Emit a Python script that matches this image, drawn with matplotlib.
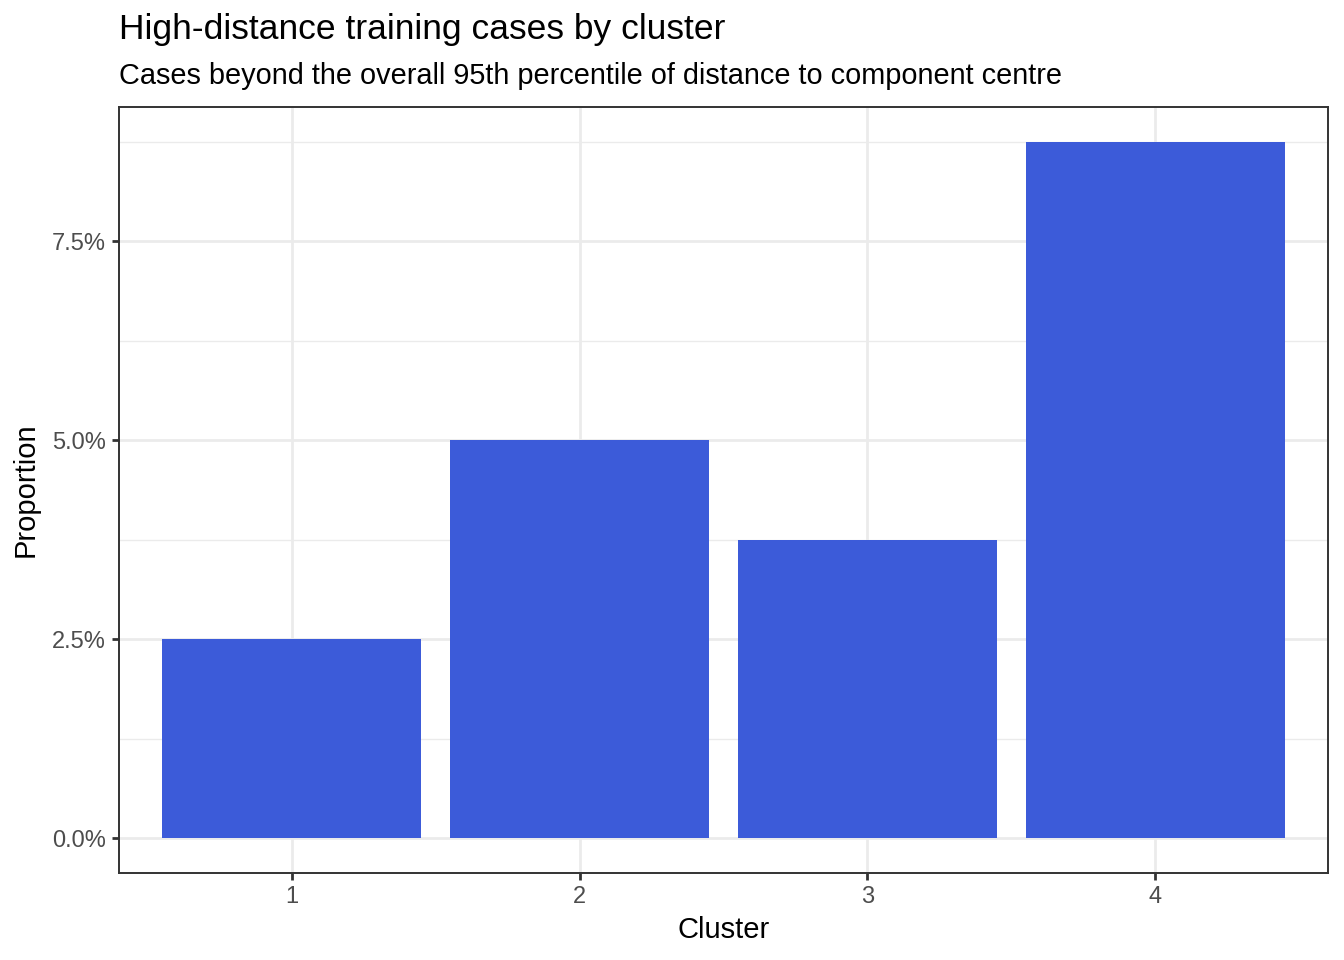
import matplotlib
matplotlib.use("Agg")
import matplotlib.pyplot as plt
from matplotlib.ticker import FuncFormatter, MultipleLocator

clusters = ["1", "2", "3", "4"]
proportions = [0.025, 0.050, 0.0375, 0.0875]
y_ticks = [0.0, 0.025, 0.05, 0.075]

plt.rcParams['font.family'] = ['Liberation Sans', 'DejaVu Sans']

W, H = 1344, 960
fig = plt.figure(figsize=(W / 100, H / 100), dpi=100)
left, right, top, bottom = 119, 1328, 107, 873
ax = fig.add_axes([left / W, 1 - bottom / H, (right - left) / W, (bottom - top) / H])

xpos = list(range(1, len(clusters) + 1))
ax.bar(xpos, proportions, width=0.9, color="#3C5BD9", zorder=3)

ymax = max(proportions)
pad = ymax * 0.05
ax.set_ylim(-pad, ymax + pad)
ax.set_xlim(0.4, len(clusters) + 0.6)

ax.set_xticks(xpos)
ax.set_xticklabels(clusters)
ax.set_yticks(y_ticks)
ax.yaxis.set_major_formatter(FuncFormatter(lambda v, p: f"{v*100:.1f}%"))
ax.yaxis.set_minor_locator(MultipleLocator(0.0125))

ax.grid(which="major", color="#EBEBEB", linewidth=2.0, zorder=0)
ax.grid(which="minor", axis="y", color="#EBEBEB", linewidth=1.0, zorder=0)
ax.set_axisbelow(True)

for s in ax.spines.values():
    s.set_color("#333333")
    s.set_linewidth(1.4)
    s.set_zorder(5)

ax.tick_params(axis="both", which="major", length=5.3, width=2.0, color="#333333",
               labelcolor="#4D4D4D", labelsize=17, pad=4)
ax.tick_params(axis="both", which="minor", length=0)

ax.set_xlabel("Cluster", fontsize=21, color="black", labelpad=6)
ax.set_ylabel("Proportion", fontsize=21, color="black", labelpad=9)

fig.text(left / W, 1 - 29 / H, "High-distance training cases by cluster",
         fontsize=25.5, ha="left", va="center", color="black")
fig.text(left / W, 1 - 75.5 / H,
         "Cases beyond the overall 95th percentile of distance to component centre",
         fontsize=20.8, ha="left", va="center", color="black")

fig.savefig("out.png", dpi=100, facecolor="white")
